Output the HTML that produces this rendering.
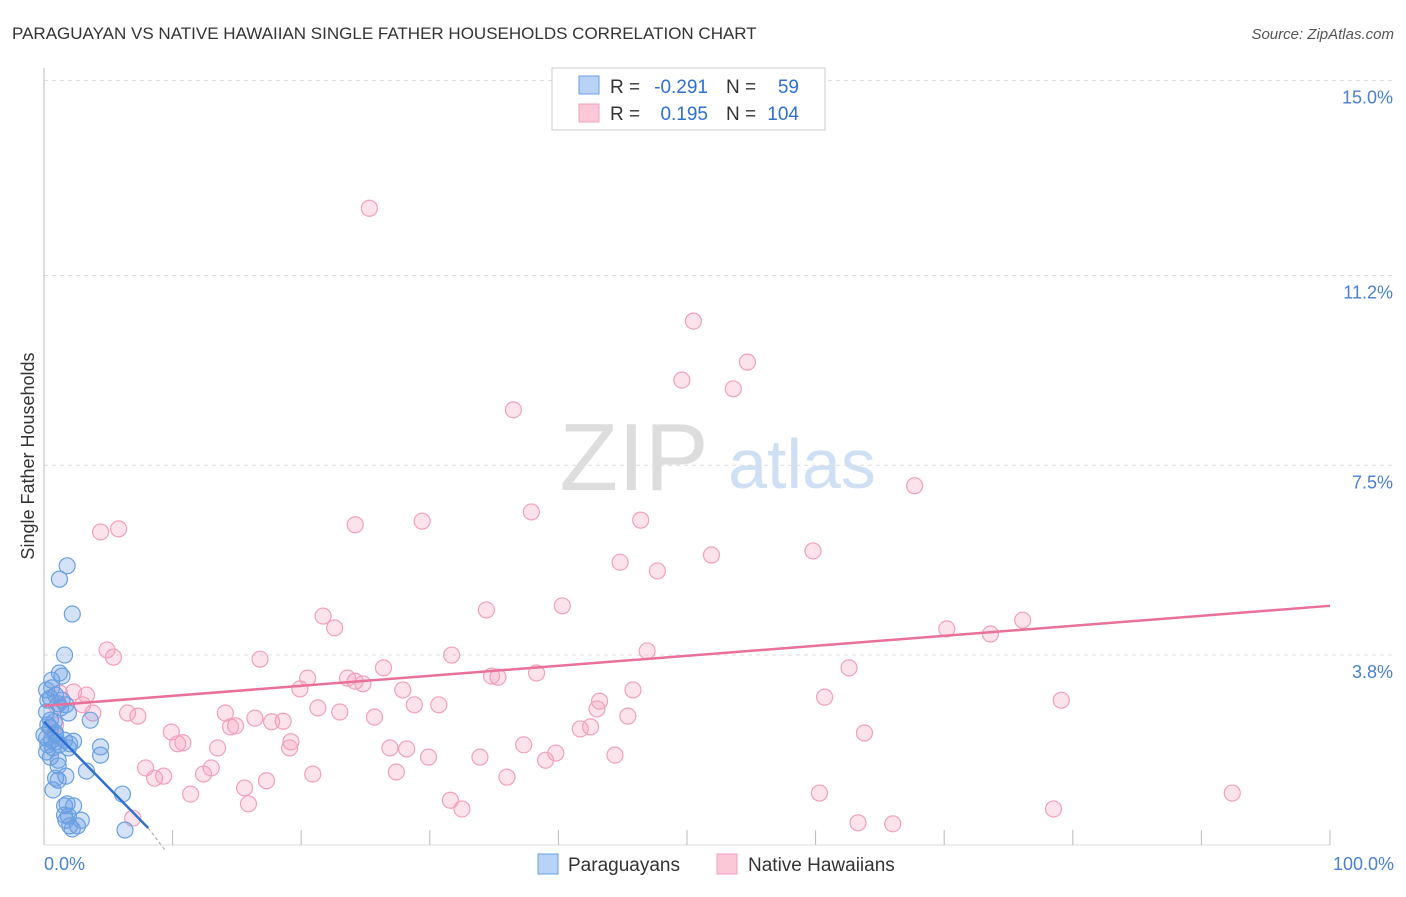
<!DOCTYPE html>
<html><head><meta charset="utf-8"><style>
body{margin:0;background:#fff;font-family:"Liberation Sans",sans-serif}
svg text{font-family:"Liberation Sans",sans-serif}
</style></head><body>
<svg id="chart" width="1406" height="892">
<text x="12" y="39" font-size="17" fill="#333">PARAGUAYAN VS NATIVE HAWAIIAN SINGLE FATHER HOUSEHOLDS CORRELATION CHART</text>
<text x="1394" y="39" font-size="15" fill="#555" font-style="italic" text-anchor="end">Source: ZipAtlas.com</text>
<text x="34" y="456" font-size="18" fill="#333" text-anchor="middle" transform="rotate(-90 34 456)">Single Father Households</text>
<g><text x="634" y="490" font-size="96" fill="#ddd" text-anchor="middle" font-family="Liberation Serif">ZIP</text><text x="802" y="488" font-size="70" fill="#cfe0f5" text-anchor="middle">atlas</text></g>
<g id="grid"></g><g id="marks"></g>
<g>
<rect x="552" y="68" width="273" height="62" fill="#fff" stroke="#ccc"/>
<rect x="579" y="76" width="20" height="18" fill="#b8d3f5" stroke="#6aa0e0"/>
<rect x="579" y="104" width="20" height="18" fill="#fbc8d8" stroke="#f0a0bc"/>
<text x="610" y="93" font-size="19" fill="#333">R =</text>
<text x="708" y="93" font-size="19" fill="#2f6fd0" text-anchor="end">-0.291</text>
<text x="726" y="93" font-size="19" fill="#333">N =</text>
<text x="799" y="93" font-size="19" fill="#2f6fd0" text-anchor="end">59</text>
<text x="610" y="120" font-size="19" fill="#333">R =</text>
<text x="708" y="120" font-size="19" fill="#2f6fd0" text-anchor="end">0.195</text>
<text x="726" y="120" font-size="19" fill="#333">N =</text>
<text x="799" y="120" font-size="19" fill="#2f6fd0" text-anchor="end">104</text>
</g>
<g>
<rect x="538" y="854" width="20" height="20" fill="#b8d3f5" stroke="#6aa0e0"/>
<text x="568" y="871" font-size="19" fill="#333">Paraguayans</text>
<rect x="717" y="854" width="20" height="20" fill="#fbc8d8" stroke="#f0a0bc"/>
<text x="748" y="871" font-size="19" fill="#333">Native Hawaiians</text>
</g>
</svg>
<script>
const yTicks=[3.8,7.5,11.2,15.0];
const yTickLabels=["3.8%","7.5%","11.2%","15.0%"];
const xTickLabels=["0.0%","100.0%"];
const pinkX=[25.3,50.5,54.7,49.6,53.6,36.5,67.7,37.9,29.4,24.2,46.4,4.4,5.8,51.9,59.8,44.8,47.7,40.3,34.4,21.7,22.6,70.2,73.6,76.1,4.9,5.4,31.7,46.9,16.8,26.4,62.6,38.3,34.8,35.3,23.6,20.5,24.2,24.8,2.3,3.3,19.9,27.9,45.8,60.7,79.1,43.2,28.8,30.7,21.3,23.0,43.0,1.0,3.0,3.8,6.5,7.3,14.1,16.4,18.6,25.7,45.4,14.5,14.9,17.7,41.7,42.5,9.9,63.8,10.4,10.8,13.5,19.2,19.1,26.9,28.2,37.3,29.9,33.9,39.8,39.0,44.4,7.9,13.0,8.6,9.3,12.4,20.9,27.4,36.0,17.3,15.6,11.4,15.9,31.6,32.5,60.3,92.4,78.5,63.3,66.0,6.9,1.2,0.9];
const pinkY=[12.51,10.31,9.51,9.16,8.99,8.58,7.10,6.59,6.41,6.34,6.43,6.20,6.26,5.75,5.83,5.61,5.44,4.76,4.68,4.56,4.33,4.31,4.21,4.48,3.90,3.76,3.80,3.88,3.72,3.55,3.55,3.45,3.39,3.37,3.35,3.35,3.29,3.24,3.08,3.02,3.14,3.12,3.12,2.98,2.92,2.90,2.83,2.83,2.77,2.69,2.75,2.81,2.83,2.67,2.67,2.61,2.67,2.57,2.51,2.59,2.61,2.40,2.42,2.50,2.36,2.40,2.30,2.28,2.07,2.09,1.99,2.11,1.99,1.99,1.97,2.05,1.81,1.81,1.89,1.75,1.85,1.60,1.60,1.40,1.44,1.48,1.48,1.52,1.42,1.35,1.21,1.09,0.90,0.97,0.80,1.11,1.11,0.80,0.53,0.51,0.62,3.06,2.44];
const blueX=[1.8,1.2,2.2,1.6,1.2,1.4,0.6,0.9,0.3,0.5,1.1,1.3,0.2,1.9,3.6,0.5,0.9,0.2,0.6,1.0,1.2,2.0,2.3,0.3,0.7,0.2,4.4,4.4,0.5,1.1,3.3,1.7,0.9,1.1,0.7,6.1,1.6,1.8,2.3,1.6,1.9,2.9,1.7,2.0,2.2,2.6,6.3,0.5,0.0,0.3,0.9,1.4,1.7,0.6,0.2,1.1,1.6,1.9,0.8];
const blueY=[5.54,5.28,4.60,3.80,3.45,3.39,3.16,3.02,2.92,2.96,2.85,2.77,2.69,2.67,2.53,2.38,2.28,2.18,2.14,2.11,2.05,2.07,2.12,2.05,1.99,1.91,2.01,1.85,1.81,1.64,1.54,1.44,1.40,1.36,1.17,1.09,0.86,0.90,0.86,0.68,0.66,0.58,0.58,0.47,0.41,0.47,0.39,2.53,2.24,2.44,2.24,2.92,2.83,3.31,3.12,1.75,2.14,1.99,2.50];
const pinkTrend=[2.81,4.76];
const blueTrend=[2.50,0.43,0.0];
const blueTrendX=[0,8.1,9.4];
const NS="http://www.w3.org/2000/svg";
const X=v=>44+v*12.86, Y=v=>850-v*51.3;
function mk(t,a,p){const e=document.createElementNS(NS,t);for(const k in a)e.setAttribute(k,a[k]);p.appendChild(e);return e;}
const grid=document.getElementById('grid'),marks=document.getElementById('marks');
yTicks.forEach((t,i)=>{
 const l=mk('line',{x1:44,x2:1394,y1:Y(t),y2:Y(t),stroke:'#ddd','stroke-dasharray':'4,4'},grid);
 
 
 const tx=mk('text',{x:1393,y:Y(t)+23,'font-size':18,fill:'#4a80d0','text-anchor':'end'},grid);
 tx.textContent=yTickLabels[i];
 
 
});
const ax=mk('line',{x1:44,x2:44,y1:68,y2:845,stroke:'#bbb'},grid);


const bx=mk('line',{x1:44,x2:1330,y1:845,y2:845,stroke:'#ddd'},grid);


for(let i=1;i<=10;i++){const t=mk('line',{x1:X(i*10),x2:X(i*10),y1:830,y2:845,stroke:'#bbb'},grid);
 
 }
[[0,'start',44],[1,'end',1394]].forEach(([i,a,x])=>{const t=mk('text',{x:x,y:870,'font-size':18,fill:'#4a80d0','text-anchor':a},grid);t.textContent=xTickLabels[i];
 
 });
pinkX.forEach((v,i)=>{const c=mk('circle',{cx:X(v),cy:Y(pinkY[i]),r:8,fill:'rgba(245,160,190,0.3)',stroke:'#f0a0bc','stroke-width':1.2},marks);
 
 });
blueX.forEach((v,i)=>{const c=mk('circle',{cx:X(v),cy:Y(blueY[i]),r:8,fill:'rgba(110,160,230,0.3)',stroke:'#6aa0e0','stroke-width':1.2},marks);
 
 });
const pl=mk('line',{x1:X(0),y1:Y(pinkTrend[0]),x2:X(100),y2:Y(pinkTrend[1]),stroke:'#e8709a','stroke-width':2.5},marks);


const bl=mk('line',{x1:X(blueTrendX[0]),y1:Y(blueTrend[0]),x2:X(blueTrendX[1]),y2:Y(blueTrend[1]),stroke:'#2f6fd0','stroke-width':2.5},marks);


const bd=mk('line',{x1:X(blueTrendX[1]),y1:Y(blueTrend[1]),x2:X(blueTrendX[2]),y2:Y(blueTrend[2]),stroke:'#aaa','stroke-width':1.2,'stroke-dasharray':'3,3'},marks);


</script>
</body></html>
